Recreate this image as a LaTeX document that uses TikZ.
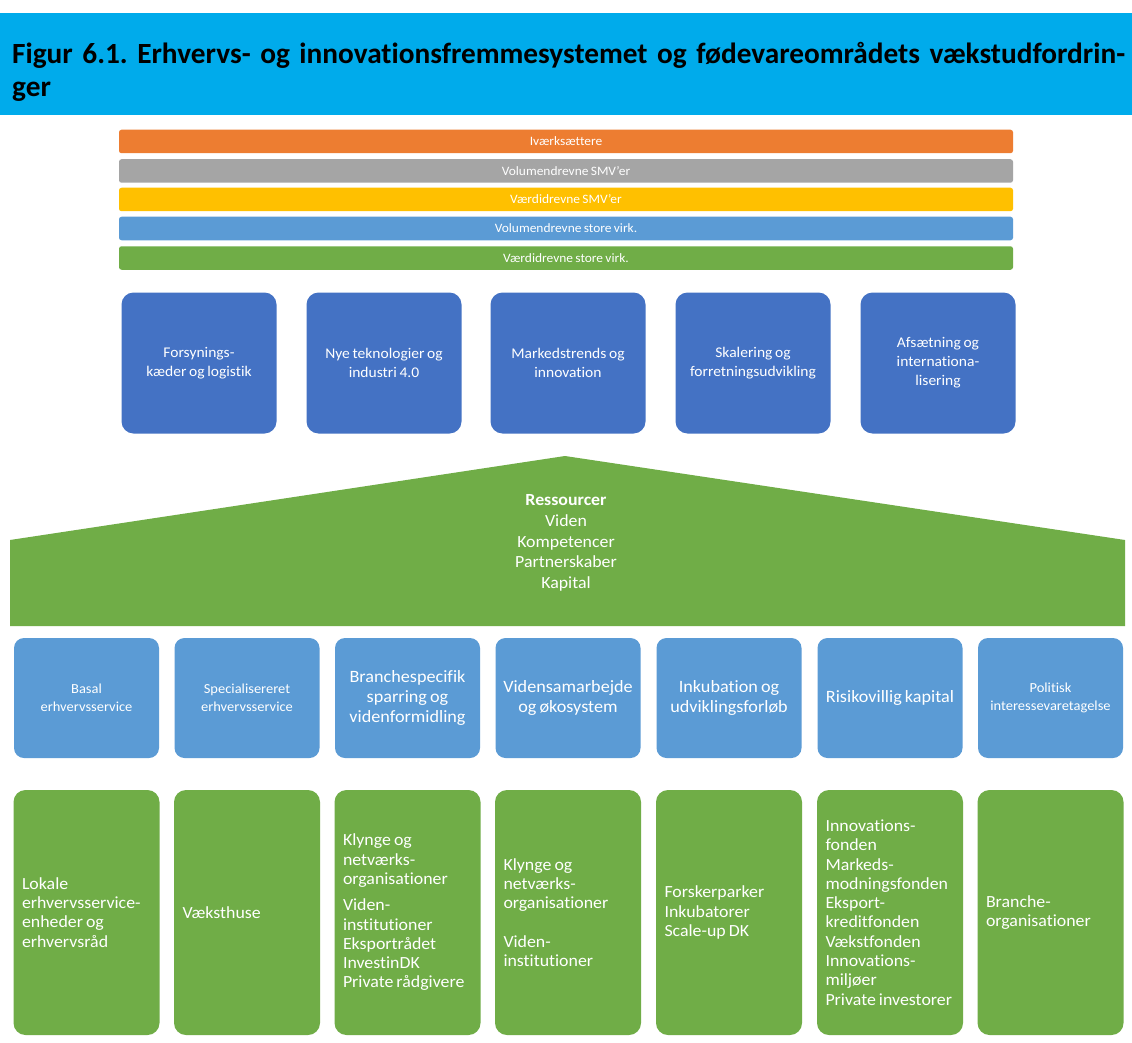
\documentclass[tikz,border=0pt]{standalone}
\usepackage{fontspec}
\setmainfont[FakeStretch=1.05, Ligatures=NoCommon]{Carlito}
\newfontfamily\titlefont[Ligatures=NoCommon]{Carlito}
\newcommand\tightsp{\spaceskip=0.18em plus 0.05em minus 0.03em\relax}
\definecolor{hdr}{RGB}{0,171,235}
\definecolor{orng}{RGB}{237,125,49}
\definecolor{gry}{RGB}{165,165,165}
\definecolor{gld}{RGB}{255,192,0}
\definecolor{mblue}{RGB}{91,155,213}
\definecolor{dblue}{RGB}{68,114,196}
\definecolor{grn}{RGB}{112,173,71}
\begin{document}
\begin{tikzpicture}[x=1pt,y=-1pt,
  every node/.append style={execute at begin node=\tightsp},
  barbox/.style={rounded corners=2.5pt, minimum width=894pt, minimum height=23.5pt, inner sep=0pt, text=white, font=\fontsize{12.8}{14}\selectfont},
  topbox/.style={rounded corners=12pt, fill=dblue, minimum width=155pt, minimum height=141pt, inner sep=0pt, text=white, align=center, font=\fontsize{14.8}{19}\selectfont},
  midbox/.style={rounded corners=10pt, fill=mblue, minimum width=145pt, minimum height=120pt, inner sep=0pt, text=white, align=center},
  lowbox/.style={rounded corners=12pt, fill=grn, minimum width=146pt, minimum height=245pt, inner sep=0pt, text=white, align=left, text width=129pt, font=\fontsize{17}{19.3}\selectfont},
  bigtxt/.style={font=\fontsize{17.3}{20}\selectfont},
  smalltxt/.style={font=\fontsize{13.8}{18}\selectfont}
]
\useasboundingbox[fill=white] (0,0) rectangle (1132,1043);
% header
\fill[hdr] (0,13) rectangle (1132,115);
\node[anchor=west, align=left, inner sep=0pt, font=\titlefont\fontsize{29.3}{32.5}\selectfont\bfseries\frenchspacing] (title) at (12,72)
  {\makebox[1113pt][s]{Figur 6.1. Erhvervs- og innovationsfremmesystemet og fødevareområdets vækstudfordrin-}\\ger};
% bars
\node[barbox, fill=orng] (b1) at (566,141.5) {Iværksættere};
\node[barbox, fill=gry] (b2) at (566,171) {Volumendrevne SMV’er};
\node[barbox, fill=gld] (b3) at (566,199.5) {Værdidrevne SMV’er};
\node[barbox, fill=mblue] (b4) at (566,228.5) {Volumendrevne store virk.};
\node[barbox, fill=grn] (b5) at (566,258) {Værdidrevne store virk.};
% top boxes
\node[topbox] (t1) at (199,363) {Forsynings-\\kæder og logistik};
\node[topbox] (t2) at (384,363) {Nye teknologier og\\industri 4.0};
\node[topbox] (t3) at (568,363) {Markedstrends og\\innovation};
\node[topbox] (t4) at (753,363) {Skalering og\\forretningsudvikling};
\node[topbox] (t5) at (938,363) {Afsætning og\\internationa-\\lisering};
% roof
\fill[grn] (10,540) -- (565,456) -- (1125,540) -- (1125,626) -- (10,626) -- cycle;
\node[align=center, text=white, inner sep=0pt, font=\fontsize{17}{20.6}\selectfont] (roof) at (566,543)
  {\textbf{Ressourcer}\\Viden\\Kompetencer\\Partnerskaber\\Kapital};
% middle boxes
\node[midbox, smalltxt] (m1) at (86.5,698) {Basal\\erhvervsservice};
\node[midbox, smalltxt] (m2) at (247,698) {Specialisereret\\erhvervsservice};
\node[midbox, bigtxt] (m3) at (407.5,698) {Branchespecifik\\sparring og\\videnformidling};
\node[midbox, bigtxt] (m4) at (568,698) {Vidensamarbejde\\og økosystem};
\node[midbox, bigtxt] (m5) at (729,698) {Inkubation og\\udviklingsforløb};
\node[midbox, bigtxt] (m6) at (890,698) {Risikovillig kapital};
\node[midbox, smalltxt] (m7) at (1050.5,698) {Politisk\\interessevaretagelse};
% lower boxes
\node[lowbox] (l1) at (86.5,912.5) {Lokale\\\mbox{erhvervsservice-}\\enheder og\\erhvervsråd};
\node[lowbox] (l2) at (247,912.5) {Væksthuse};
\node[lowbox] (l3) at (407.5,912.5) {Klynge og\\netværks-\\organisationer\\[7pt]Viden-\\institutioner\\Eksportrådet\\InvestinDK\\\mbox{Private rådgivere}};
\node[lowbox] (l4) at (568,912.5) {Klynge og\\netværks-\\organisationer\\[19.3pt]Viden-\\institutioner};
\node[lowbox] (l5) at (729,912.5) {Forskerparker\\Inkubatorer\\Scale-up DK};
\node[lowbox] (l6) at (890,912.5) {Innovations-\\fonden\\Markeds-\\\mbox{modningsfonden}\\Eksport-\\kreditfonden\\Vækstfonden\\Innovations-\\miljøer\\\mbox{Private investorer}};
\node[lowbox] (l7) at (1050.5,912.5) {Branche-\\organisationer};
\end{tikzpicture}
\end{document}
